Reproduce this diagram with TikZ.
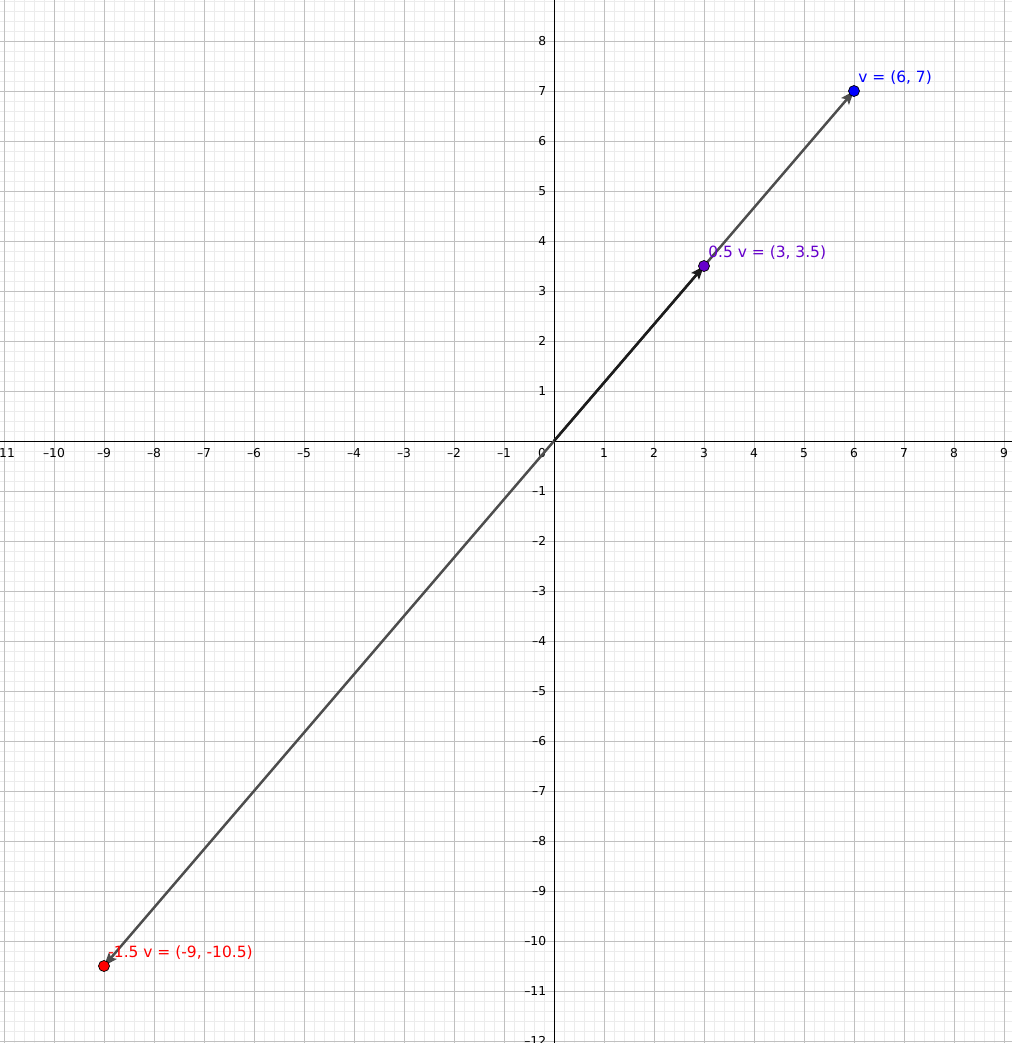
\documentclass[tikz,border=0pt]{standalone}
\usepackage{fontspec}
\setmainfont{DejaVu Sans}
\usetikzlibrary{arrows.meta,calc}
\definecolor{minorgrid}{RGB}{236,236,236}
\definecolor{majorgrid}{RGB}{192,192,192}
\definecolor{vecgray}{RGB}{77,77,77}
\definecolor{vecdark}{RGB}{28,28,28}
\definecolor{ptblue}{RGB}{0,0,255}
\definecolor{ptpurple}{RGB}{102,0,204}
\definecolor{ptred}{RGB}{255,0,0}
\tikzset{
  ticklab/.style={font=\fontsize{7}{8}\selectfont, inner sep=0pt},
  vecline/.style={line width=1.4pt, -{Stealth[length=0.27cm,width=0.2cm,inset=0.05cm]}},
  ptdot/.style={circle, draw=black, line width=0.4pt, minimum size=0.22cm, inner sep=0pt},
  ptlab/.style={font=\fontsize{8.8}{10}\selectfont, inner sep=0pt, anchor=base west},
}
\begin{document}
\begin{tikzpicture}[x=1cm,y=1cm]
\useasboundingbox (-11.08,-12.04) rectangle (9.16,8.82);
\fill[white] (-11.08,-12.04) rectangle (9.16,8.82);
\begin{scope}
\clip (-11.08,-12.04) rectangle (9.16,8.82);
\draw[minorgrid, line width=0.4pt] (-12,-13) grid[step=0.2] (10,9);
\draw[majorgrid, line width=0.5pt] (-12,-13) grid[step=1] (10,9);
\end{scope}
% axes
\draw[black, line width=0.55pt] (-11.08,0) -- (9.16,0);
\draw[black, line width=0.55pt] (0,-12.04) -- (0,8.82);
% tick labels
\foreach \x in {-11,...,-1} {
  \pgfmathtruncatemacro{\ax}{-\x}
  \node[ticklab] (tx\ax) at (\x,-0.24) {\textendash\ax};
}
\foreach \x in {1,...,9} {
  \node[ticklab] (tpx\x) at (\x,-0.24) {\x};
}
\node[ticklab] (t0) at (-0.24,-0.24) {0};
\foreach \y in {1,...,8} {
  \node[ticklab, anchor=east] (tpy\y) at (-0.15,\y) {\y};
}
\foreach \y in {-12,...,-1} {
  \pgfmathtruncatemacro{\ay}{-\y}
  \node[ticklab, anchor=east] (ty\ay) at (-0.15,\y) {\textendash\ay};
}
% points
\coordinate (O) at (0,0);
\coordinate (V) at (6,7);
\coordinate (H) at (3,3.5);
\coordinate (M) at (-9,-10.5);
\draw[vecline, vecgray] (O) -- (V);
\draw[vecline, vecgray] (O) -- (M);
\draw[vecline, vecdark] (O) -- (H);
\node[ptdot, fill=ptblue] (pV) at (V) {};
\node[ptdot, fill=ptpurple] (pH) at (H) {};
\node[ptdot, fill=ptred] (pM) at (M) {};
\node[ptlab, text=ptblue] (lV) at ($(V)+(0.08,0.18)$) {v = (6, 7)};
\node[ptlab, text=ptpurple] (lH) at ($(H)+(0.08,0.18)$) {0.5 v = (3, 3.5)};
\node[ptlab, text=ptred] (lM) at ($(M)+(0.08,0.18)$) {-1.5 v = (-9, -10.5)};
\end{tikzpicture}
\end{document}
